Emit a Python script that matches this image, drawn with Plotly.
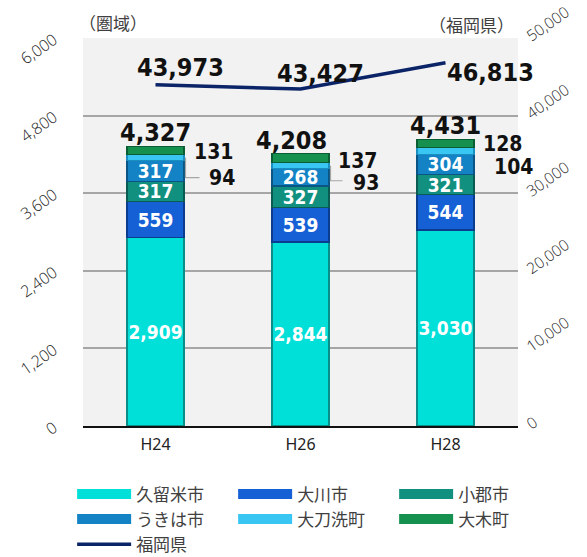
import plotly.graph_objects as go

categories = ["H24", "H26", "H28"]
kurume = [2909, 2844, 3030]
okawa = [559, 539, 544]
ogori = [317, 327, 321]
ukiha = [317, 268, 304]
tachiarai = [94, 93, 104]
oki = [131, 137, 128]
fukuoka = [43973, 43427, 46813]
series_names = ["久留米市", "大川市", "小郡市", "うきは市", "大刀洗町", "大木町"]
line_name = "福岡県"
left_ticks = [0, 1200, 2400, 3600, 4800, 6000]
right_ticks = [0, 10000, 20000, 30000, 40000, 50000]

series_values = [kurume, okawa, ogori, ukiha, tachiarai, oki]
fills = ["#00E0D9", "#1660D6", "#11907F", "#1383C6", "#3AC6F2", "#15904E"]
edges = ["#0A8C88", "#0B3C8E", "#0A5C52", "#0A5584", "#1A8EBE", "#0B5E34"]
show_inside = [True, True, True, True, False, False]

NUM = "DejaVu Sans Condensed, DejaVu Sans, sans-serif"
TXT = "Noto Sans CJK JP, Noto Sans, sans-serif"

fig = go.Figure()
for name, vals, fc, ec, inside in zip(series_names, series_values, fills, edges, show_inside):
    fig.add_trace(go.Bar(
        x=categories, y=vals, name=name, showlegend=False,
        marker=dict(color=fc, line=dict(color=ec, width=1.2)),
        text=[f"{v:,}" for v in vals] if inside else None,
        textposition="inside" if inside else "none",
        insidetextanchor="middle", textangle=0, constraintext="none",
        insidetextfont=dict(family=NUM, size=19, color="white", weight="bold"),
        hoverinfo="skip",
    ))

# legend entries (wide swatches)
for name, fc in zip(series_names, fills):
    fig.add_trace(go.Scatter(x=[None], y=[None], mode="lines", name=name,
                             line=dict(color=fc, width=11), hoverinfo="skip"))

fig.add_trace(go.Scatter(x=categories, y=fukuoka, name=line_name, yaxis="y2",
                         mode="lines", line=dict(color="#0B2468", width=3.5),
                         hoverinfo="skip"))

annotations = []
bold_big = dict(family=NUM, size=25, color="#111111", weight="bold")
bold_small = dict(family=NUM, size=21, color="#111111", weight="bold")

# totals
total_xshift = [0, -9, 0]
for i, c in enumerate(categories):
    tot = sum(s[i] for s in series_values)
    annotations.append(dict(x=c, y=tot, xref="x", yref="y", text=f"{tot:,}",
                            showarrow=False, yanchor="bottom", xanchor="center",
                            xshift=total_xshift[i], yshift=-3, font=bold_big))

# outside small-segment labels
oki_off = [(36, -2), (35, -3), (35, 0)]
tach_off = [(51, -20), (50, -17), (46, -16)]
for i, c in enumerate(categories):
    base5 = sum(s[i] for s in series_values[:5])
    base4 = sum(s[i] for s in series_values[:4])
    annotations.append(dict(x=c, y=base5 + oki[i] / 2, xref="x", yref="y",
                            text=f"{oki[i]:,}", showarrow=False, xanchor="left",
                            xshift=oki_off[i][0], yshift=oki_off[i][1], font=bold_small))
    annotations.append(dict(x=c, y=base4 + tachiarai[i] / 2, xref="x", yref="y",
                            text=f"{tachiarai[i]:,}", showarrow=False, xanchor="left",
                            xshift=tach_off[i][0], yshift=tach_off[i][1], font=bold_small))

# line labels
line_off = [(25, 17), (20, 16), (45, -10)]
for i, c in enumerate(categories):
    annotations.append(dict(x=c, y=fukuoka[i], xref="x", yref="y2",
                            text=f"{fukuoka[i]:,}", showarrow=False,
                            xshift=line_off[i][0], yshift=line_off[i][1], font=bold_big))

# unit labels
annotations.append(dict(x=0, y=1, xref="paper", yref="paper", text="（圏域）",
                        showarrow=False, xanchor="left", yanchor="bottom", xshift=-6, yshift=1,
                        font=dict(family=TXT, size=17, color="#404040")))
annotations.append(dict(x=1, y=1, xref="paper", yref="paper", text="（福岡県）",
                        showarrow=False, xanchor="right", yanchor="bottom", xshift=-2, yshift=-1,
                        font=dict(family=TXT, size=17, color="#404040")))

# leader lines for the 大刀洗町 labels
shapes = []
for i, c in enumerate(categories[:2]):
    base4 = sum(s[i] for s in series_values[:4])
    drop = [20, 15][i]
    run = [44, 42][i]
    shapes.append(dict(type="path", xref="x", yref="y", xsizemode="pixel", ysizemode="pixel",
                       xanchor=c, yanchor=base4 + tachiarai[i] / 2,
                       path=f"M 30 0 V {-drop} H {run}",
                       line=dict(color="#A6A6A6", width=1.2)))

tickfont = dict(family="Open Sans, sans-serif", size=16, color="#222222", weight=300)
fig.update_layout(
    width=587, height=557,
    margin=dict(l=83, r=69, t=38, b=131, autoexpand=False),
    paper_bgcolor="white", plot_bgcolor="#F2F2F2",
    barmode="stack", bargap=0.607,
    annotations=annotations, shapes=shapes,
    font=dict(family=TXT, color="#404040"),
    xaxis=dict(range=[-0.5, 2.5], showline=True, linecolor="#111111", linewidth=2, ticks="",
               automargin=False, ticklabelstandoff=3,
               tickfont=dict(family="Noto Sans, sans-serif", size=16, color="#222222"),
               showgrid=False),
    yaxis=dict(range=[0, 6000], tickvals=left_ticks, tickformat=",d", tickangle=-35,
               showgrid=True, gridcolor="#A6A6A6", gridwidth=1.5, zeroline=False,
               ticklabelstandoff=28, automargin=False, tickfont=tickfont,
               ticklabeloverflow="allow"),
    yaxis2=dict(range=[0, 50000], tickvals=right_ticks, tickformat=",d", tickangle=-35,
                overlaying="y", side="right", showgrid=False, zeroline=False,
                ticklabelstandoff=8, automargin=False,
                tickfont=dict(family="Open Sans, sans-serif", size=15.5, color="#222222", weight=300),
                ticklabeloverflow="allow"),
    legend=dict(orientation="h", x=-0.025, xanchor="left", y=-0.13, yanchor="top",
                traceorder="normal",
                entrywidth=92, entrywidthmode="pixels", itemwidth=54,
                font=dict(family=TXT, size=17, color="#404040"),
                bgcolor="rgba(0,0,0,0)"),
)

fig.write_html("out.html", config={"displayModeBar": False},
               post_script="document.body.style.margin='0';document.body.style.overflow='hidden';")
